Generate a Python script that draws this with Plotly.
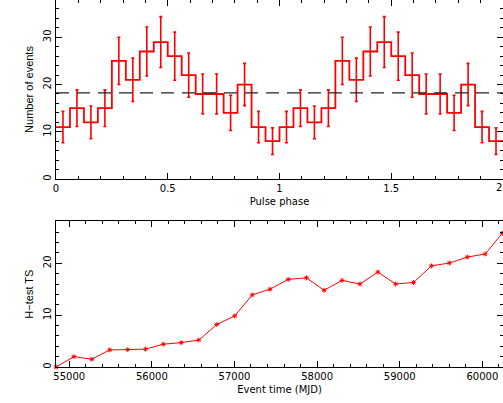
import numpy as np
import plotly.graph_objects as go

# --- Data ---
# Counts per phase bin, 16 bins per cycle (shown for two cycles)
counts_cycle = [11, 15, 12, 15, 25, 21, 27, 29, 26, 22, 18, 18, 14, 20, 11, 8]
n_cycles = 2

# H-test TS versus event time
mjd = [54840, 55057, 55274, 55491, 55708, 55925, 56139, 56356, 56569, 56786,
       57003, 57215, 57429, 57650, 57871, 58085, 58302, 58519, 58736, 58950,
       59167, 59384, 59601, 59818, 60035, 60243]
hts = [0.0, 2.0, 1.5, 3.3, 3.35, 3.45, 4.4, 4.7, 5.2, 8.2,
       9.85, 13.9, 15.0, 16.9, 17.2, 14.8, 16.7, 16.0, 18.3, 16.0,
       16.3, 19.5, 20.05, 21.2, 21.8, 25.8]

phase_ticks = [0, 0.5, 1, 1.5, 2]
phase_ticktext = ["0", "0.5", "1", "1.5", "2"]
mjd_ticks = [55000, 56000, 57000, 58000, 59000, 60000]

# --- Derived ---
counts = np.array(counts_cycle * n_cycles, dtype=float)
nb = len(counts)
width = n_cycles / nb
edges = np.arange(nb + 1) * width
centers = edges[:-1] + width / 2
errs = np.sqrt(counts)
mean_level = counts.mean()

RED = "#ff0000"
FONT = "DejaVu Sans"

fig = go.Figure()

# Histogram step line
fig.add_trace(go.Scatter(
    x=edges, y=np.append(counts, counts[-1]), mode="lines",
    line=dict(color=RED, width=1.8, shape="hv"),
    xaxis="x", yaxis="y", showlegend=False, hoverinfo="skip"))

# Poisson error bars
fig.add_trace(go.Scatter(
    x=centers, y=counts, mode="markers",
    marker=dict(size=1, color=RED, opacity=0),
    error_y=dict(type="data", array=errs, visible=True, color=RED,
                 thickness=1.6, width=1.5),
    xaxis="x", yaxis="y", showlegend=False))

# Mean level dashed line
fig.add_trace(go.Scatter(
    x=[0, n_cycles], y=[mean_level, mean_level], mode="lines",
    line=dict(color="#222222", width=1.3, dash="13px,8px"),
    xaxis="x", yaxis="y", showlegend=False))

# H-test TS curve
fig.add_trace(go.Scatter(
    x=mjd, y=hts, mode="lines+markers",
    line=dict(color=RED, width=1),
    marker=dict(symbol="asterisk-open", size=4, color=RED,
                line=dict(color=RED, width=1)),
    xaxis="x2", yaxis="y2", showlegend=False, cliponaxis=False))

axis_common = dict(
    showline=True, linecolor="black", linewidth=1, mirror="allticks",
    ticks="inside", ticklen=6, tickwidth=1, tickcolor="black",
    showgrid=False, zeroline=False,
    tickfont=dict(family=FONT, size=10, color="black"),
)

H = 403
plot_h = H - 36
top_lo = (plot_h - 179) / plot_h
bot_hi = (plot_h - 221.3) / plot_h

fig.update_layout(
    width=503, height=403,
    margin=dict(l=56, r=0, t=0, b=36),
    paper_bgcolor="white", plot_bgcolor="white",
    font=dict(family=FONT, size=10, color="black"),
    xaxis=dict(axis_common, range=[0, 2], domain=[0, 1], anchor="y",
               tickvals=phase_ticks, ticktext=phase_ticktext,
               minor=dict(ticks="inside", ticklen=3, dtick=0.1, tickcolor="black"),
               title=dict(text="Pulse phase", font=dict(family=FONT, size=10), standoff=4)),
    yaxis=dict(axis_common, range=[0, 37.9], domain=[top_lo, 1], anchor="x",
               tickvals=[0, 10, 20, 30], tickangle=-90,
               minor=dict(ticks="inside", ticklen=3, dtick=2, tickcolor="black"),
               title=dict(text="Number of events", font=dict(family="Liberation Sans", size=11), standoff=6)),
    xaxis2=dict(axis_common, range=[54840, 60250], domain=[0, 1], anchor="y2",
                tickvals=mjd_ticks, tickformat="d",
                minor=dict(ticks="inside", ticklen=3, dtick=200, tickcolor="black"),
                title=dict(text="Event time (MJD)", font=dict(family=FONT, size=10), standoff=4)),
    yaxis2=dict(axis_common, range=[0, 28.1], domain=[0, bot_hi], anchor="x2",
                tickvals=[0, 10, 20], tickangle=-90,
                minor=dict(ticks="inside", ticklen=3, dtick=2, tickcolor="black"),
                title=dict(text="H\u2212test TS", font=dict(family="Liberation Sans", size=11), standoff=6)),
)

# Last phase tick label, kept just inside the right edge
fig.add_annotation(x=phase_ticks[-1], y=0, xref="x", yref="y",
                   text=phase_ticktext[-1], showarrow=False,
                   yanchor="top", xanchor="right", yshift=-1, xshift=1,
                   font=dict(family=FONT, size=10, color="black"))

fig.write_html("out.html")
